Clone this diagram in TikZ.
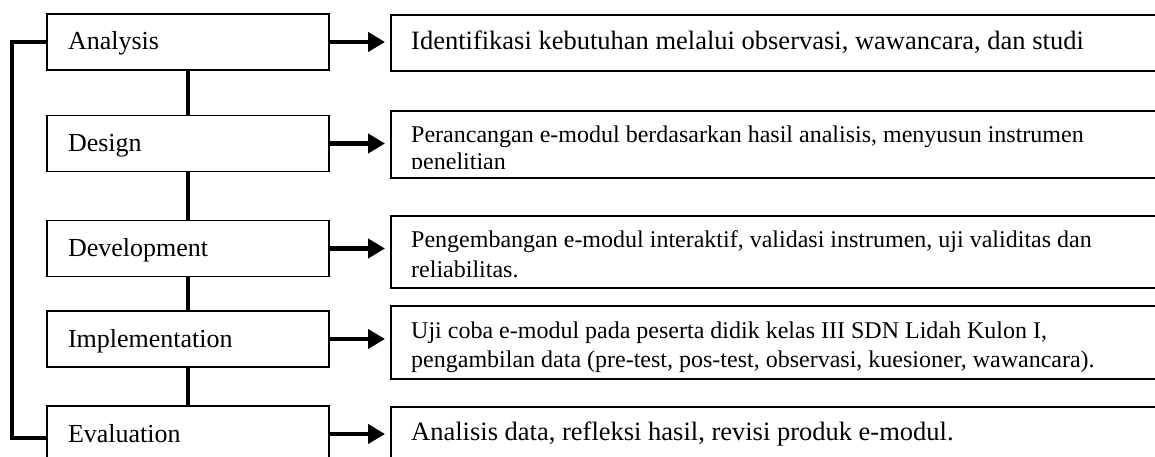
\documentclass[tikz,border=0pt]{standalone}
\usepackage{fontspec}
\setmainfont{Liberation Serif}
\usetikzlibrary{arrows.meta}
\tikzset{
    stage/.style={draw, line width=1.8pt, minimum height=56pt, text width=240pt,
        inner xsep=21pt, align=left, text height=18pt, text depth=2pt,
        font=\fontsize{26}{30}\selectfont},
    note/.style={draw, line width=1.8pt, minimum width=790pt, anchor=north west},
    big/.style={anchor=base west, inner sep=0pt, align=left, font=\fontsize{26.5}{30}\selectfont},
    small/.style={anchor=base west, inner sep=0pt, align=left, font=\fontsize{24}{29}\selectfont},
    link/.style={line width=4.5pt},
    flow/.style={line width=4.5pt, -{Triangle[length=17pt,width=19pt]}, shorten >=5pt}
}

\begin{document}
\begin{tikzpicture}[x=1pt,y=-1pt]
    \useasboundingbox (0,0) rectangle (1155,457);
    \clip (0,0) rectangle (1155,457);

    \node[stage] (ana) at (188,42) {Analysis};
    \node[stage] (des) at (188,143.5) {Design};
    \node[stage] (dev) at (188,248.5) {Development};
    \node[stage] (imp) at (188,339) {Implementation};
    \node[stage] (eva) at (188,434) {Evaluation};

    \node[note, minimum height=56pt] (anaR) at (390,14) {};
    \node[note, minimum height=67pt] (desR) at (390,110) {};
    \node[note, minimum height=72pt] (devR) at (390,215) {};
    \node[note, minimum height=73pt] (impR) at (390,305) {};
    \node[note, minimum height=60pt] (evaR) at (390,406) {};

    % two-line texts sit on the baseline of their last line
    \node[big] (anaT) at (411,50) {Identifikasi kebutuhan melalui observasi, wawancara, dan studi};
    \begin{scope}
        \clip (desR.north west) rectangle ([yshift=10pt]desR.south east);
        \node[small] (desT) at (411,169) {Perancangan e-modul berdasarkan hasil analisis, menyusun instrumen\\[-3pt]
            penelitian};
    \end{scope}
    \node[small] (devT) at (411,277) {Pengembangan e-modul interaktif, validasi instrumen, uji validitas dan\\[1pt]
        reliabilitas.};
    \begin{scope}
        \clip (impR.north west) rectangle ([yshift=2pt]impR.south east);
        \node[small] (impT) at (411,367) {Uji coba e-modul pada peserta didik kelas III SDN Lidah Kulon I,\\
            pengambilan data (pre-test, pos-test, observasi, kuesioner, wawancara).};
    \end{scope}
    \node[big] (evaT) at (411,440) {Analisis data, refleksi hasil, revisi produk e-modul.};

    \draw[link] (ana) -- (des);
    \draw[link] (des) -- (dev);
    \draw[link] (dev) -- (imp);
    \draw[link] (imp) -- (eva);
    \draw[link] (ana.west) -- ++(-34,0) |- ([yshift=-4pt]eva.west);

    \draw[flow] (ana.east) -- (ana.east -| anaR.west);
    \draw[flow] (des.east) -- (des.east -| desR.west);
    \draw[flow] (dev.east) -- (dev.east -| devR.west);
    \draw[flow] (imp.east) -- (imp.east -| impR.west);
    \draw[flow] (eva.east) -- (eva.east -| evaR.west);
\end{tikzpicture}
\end{document}
